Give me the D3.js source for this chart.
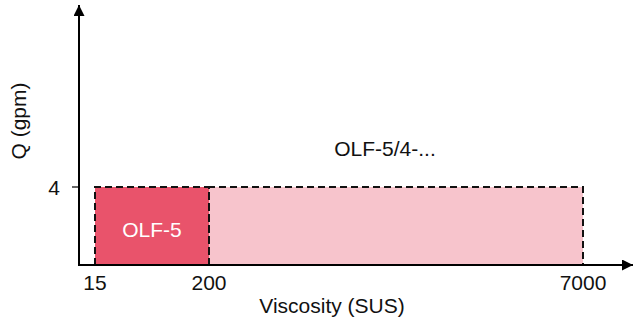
<!DOCTYPE html>
<html><head><meta charset="utf-8">
<script src="https://cdn.jsdelivr.net/npm/d3@7"></script>
<style>body{margin:0;background:#fff}svg{display:block}text{font-family:"Liberation Sans",Arial,Helvetica,sans-serif}</style>
</head><body>
<script>
const xTickLabels = [15, 200, 7000];
const yTickLabels = [4];
const regionNames = ["OLF-5", "OLF-5/4-..."];
const regionX0 = [15, 200];
const regionX1 = [200, 7000];
const regionQ = [4, 4];
const regionColors = ["#e9536b", "#f7c4cc"];
const labelColors = ["#ffffff", "#111111"];

const W = 633, H = 326;
const svg = d3.select("body").append("svg").attr("width", W).attr("height", H);

const x = d3.scaleLinear().domain([0, 15, 200, 7000, 9000]).range([79, 95, 209, 583, 633]);
const y = d3.scaleLinear().domain([0, 4, 13.5]).range([265, 187, 5]);

const defs = svg.append("defs");
["ax","ay"].forEach(id => {
  defs.append("marker").attr("id", id).attr("viewBox","0 0 10 10").attr("refX",10).attr("refY",5)
    .attr("markerWidth",16).attr("markerHeight",11).attr("markerUnits","userSpaceOnUse")
    .attr("orient","auto").append("path").attr("d","M0,0L10,5L0,10Z").attr("fill","#000");
});

// regions
const g = svg.append("g");
regionNames.forEach((n, i) => {
  g.append("rect").attr("x", x(regionX0[i])).attr("y", y(regionQ[i]))
    .attr("width", x(regionX1[i]) - x(regionX0[i])).attr("height", y(0) - y(regionQ[i]))
    .attr("fill", regionColors[i]);
});
regionNames.forEach((n, i) => {
  const x0 = x(regionX0[i]), x1 = x(regionX1[i]), yt = y(regionQ[i]), yb = y(0);
  g.append("path").attr("d", `M${x0},${yb}L${x0},${yt}L${x1},${yt}L${x1},${yb}`)
    .attr("fill","none").attr("stroke","#111").attr("stroke-width",2).attr("stroke-dasharray","7,4");
});

// labels
svg.append("text").attr("x", (x(regionX0[0]) + x(regionX1[0])) / 2).attr("y", 237)
  .attr("text-anchor","middle").attr("font-size",21).attr("fill", labelColors[0]).text(regionNames[0]);
svg.append("text").attr("x", 385).attr("y", 156)
  .attr("text-anchor","middle").attr("font-size",21).attr("fill", labelColors[1]).text(regionNames[1]);

// axes
svg.append("line").attr("x1", x(0)).attr("y1", y(0)).attr("x2", 633).attr("y2", y(0))
  .attr("stroke","#000").attr("stroke-width",2).attr("marker-end","url(#ax)");
svg.append("line").attr("x1", x(0)).attr("y1", y(0) + 1).attr("x2", x(0)).attr("y2", 5)
  .attr("stroke","#000").attr("stroke-width",2).attr("marker-end","url(#ay)");

// x ticks
xTickLabels.forEach(v => {
  svg.append("text").attr("x", x(v)).attr("y", 290).attr("text-anchor","middle")
    .attr("font-size",21).attr("fill","#111").text(v);
});
// y ticks
yTickLabels.forEach(v => {
  svg.append("line").attr("x1", 72).attr("x2", x(0)).attr("y1", y(v)).attr("y2", y(v))
    .attr("stroke","#000").attr("stroke-width",1.2);
  svg.append("text").attr("x", 60).attr("y", y(v) + 7.5).attr("text-anchor","end")
    .attr("font-size",21).attr("fill","#111").text(v);
});

// axis titles
svg.append("text").attr("x", 332).attr("y", 313).attr("text-anchor","middle")
  .attr("font-size",21).attr("fill","#111").text("Viscosity (SUS)");
svg.append("text").attr("transform","translate(26,121) rotate(-90)").attr("text-anchor","middle")
  .attr("font-size",21).attr("fill","#111").text("Q (gpm)");
</script>
</body></html>
